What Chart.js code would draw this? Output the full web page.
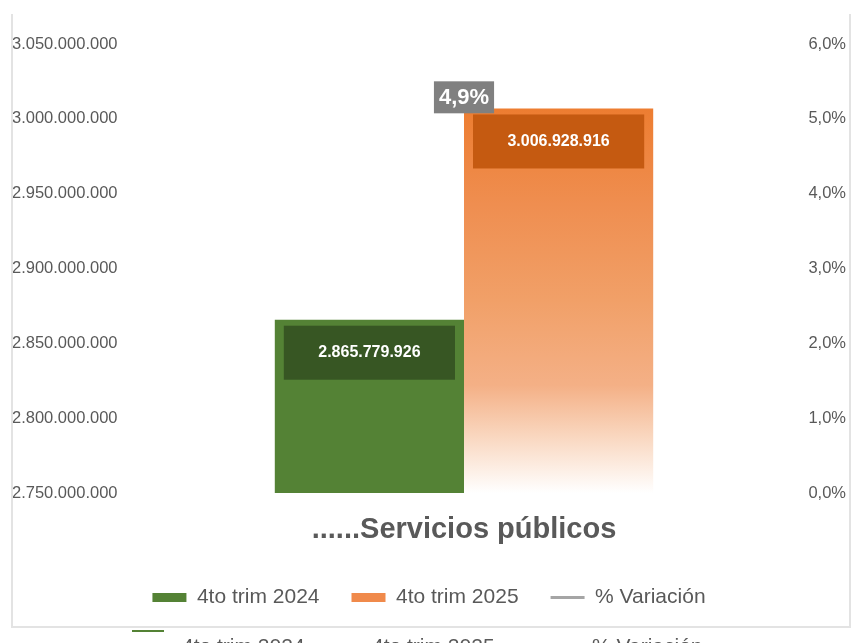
<!DOCTYPE html>
<html>
<head>
<meta charset="utf-8">
<script src="https://cdn.jsdelivr.net/npm/chart.js@4.4.1/dist/chart.umd.min.js"></script>
<style>
  html, body { margin: 0; padding: 0; background: #fff; }
  body { width: 857px; height: 643px; overflow: hidden; position: relative; }
  #wrap { position: absolute; left: 0; top: 0; width: 857px; height: 643px; }
  #frame {
    position: absolute; left: 11px; top: 14px; width: 836px; height: 612px;
    border-left: 2px solid #e3e3e3; border-right: 2px solid #e3e3e3; border-bottom: 2px solid #e3e3e3;
    pointer-events: none;
  }
  #ghost { position: absolute; top: 634px; left: 0; width: 857px; height: 40px;
    font: 21px "Liberation Sans", Arial, sans-serif; color: #595959; }
  #ghost span { position: absolute; top: 0; }
  #ghost .sym { position: absolute; top: -4px; left: 132px; width: 32px; height: 2px; background: #548235; }
</style>
</head>
<body>
<div id="wrap"><canvas id="chart" width="857" height="643"></canvas></div>
<div id="frame"></div>
<div id="ghost">
  <div class="sym"></div>
  <span style="left:182px">4to trim 2024</span>
  <span style="left:372px">4to trim 2025</span>
  <span style="left:592px">% Variación</span>
</div>
<script>
// Data
var categories = ['......Servicios públicos'];
var seriesNames = ['4to trim 2024', '4to trim 2025', '% Variación'];
var values2024 = [2865779926];
var values2025 = [3006928916];
var variacion = [4.9];

// Colours
var green = '#548235';
var greenDark = '#375623';
var orange = '#ED7D31';
var orangeDark = '#C55A11';
var gray = '#A5A5A5';
var textGray = '#595959';
var fontFamily = '"Liberation Sans", Arial, sans-serif';

function miles(n) {
  return String(Math.round(n)).replace(/\B(?=(\d{3})+(?!\d))/g, '.');
}

function orangeGradient(context) {
  var chart = context.chart;
  var area = chart.chartArea;
  if (!area) return orange;
  var top = chart.scales.y.getPixelForValue(values2025[0]);
  var g = chart.ctx.createLinearGradient(0, top, 0, area.bottom);
  g.addColorStop(0, '#ED7D31');
  g.addColorStop(0.25, '#EF8E50');
  g.addColorStop(0.5, '#F1A068');
  g.addColorStop(0.72, '#F4B086');
  g.addColorStop(0.85, '#F9D6BE');
  g.addColorStop(1, '#FFFFFF');
  return g;
}

// Value labels drawn on top of the bars and line point
var labelPlugin = {
  id: 'valueLabels',
  afterDatasetsDraw: function(chart) {
    var ctx = chart.ctx;
    ctx.save();
    ctx.textAlign = 'center';
    ctx.textBaseline = 'middle';

    [[0, greenDark], [1, orangeDark]].forEach(function(cfg) {
      var meta = chart.getDatasetMeta(cfg[0]);
      var bar = meta.data[0];
      var left = bar.x - bar.width / 2 + 9;
      var w = bar.width - 18;
      var top = bar.y + 6;
      ctx.fillStyle = cfg[1];
      ctx.fillRect(left, top, w, 54);
      ctx.fillStyle = '#ffffff';
      ctx.font = 'bold 16px ' + fontFamily;
      ctx.fillText(miles(chart.data.datasets[cfg[0]].data[0]), bar.x, top + 27);
    });

    var pt = chart.getDatasetMeta(2).data[0];
    var txt = variacion[0].toFixed(1).replace('.', ',') + '%';
    ctx.font = 'bold 22px ' + fontFamily;
    var tw = ctx.measureText(txt).width + 10;
    ctx.fillStyle = '#808080';
    ctx.fillRect(pt.x - tw / 2, pt.y - 45, tw, 32);
    ctx.fillStyle = '#ffffff';
    ctx.fillText(txt, pt.x, pt.y - 28);
    ctx.restore();
  }
};

var chart = new Chart(document.getElementById('chart'), {
  data: {
    labels: categories,
    datasets: [
      {
        type: 'bar',
        label: seriesNames[0],
        data: values2024,
        backgroundColor: green,
        yAxisID: 'y',
        categoryPercentage: 0.55,
        barPercentage: 1,
        order: 2
      },
      {
        type: 'bar',
        label: seriesNames[1],
        data: values2025,
        backgroundColor: orangeGradient,
        yAxisID: 'y',
        categoryPercentage: 0.55,
        barPercentage: 1,
        order: 2
      },
      {
        type: 'line',
        label: seriesNames[2],
        data: variacion,
        borderColor: gray,
        backgroundColor: gray,
        borderWidth: 3,
        pointRadius: 0,
        yAxisID: 'y1',
        order: 1
      }
    ]
  },
  options: {
    responsive: false,
    animation: false,
    layout: { padding: { top: 44, left: 12, right: 11, bottom: 25 } },
    plugins: {
      tooltip: { enabled: false },
      legend: {
        position: 'bottom',
        labels: {
          usePointStyle: true,
          pointStyleWidth: 34,
          boxHeight: 9,
          padding: 32,
          color: textGray,
          font: { family: fontFamily, size: 21 },
          generateLabels: function(chart) {
            return [
              { text: seriesNames[0], fillStyle: green, strokeStyle: green, lineWidth: 0, pointStyle: 'rect', datasetIndex: 0, fontColor: textGray },
              { text: seriesNames[1], fillStyle: '#F08A4B', strokeStyle: '#F08A4B', lineWidth: 0, pointStyle: 'rect', datasetIndex: 1, fontColor: textGray },
              { text: seriesNames[2], fillStyle: gray, strokeStyle: gray, lineWidth: 3, pointStyle: 'line', datasetIndex: 2, fontColor: textGray }
            ];
          }
        }
      }
    },
    scales: {
      x: {
        grid: { display: false, drawTicks: false },
        border: { display: false },
        ticks: {
          color: textGray,
          padding: 20,
          font: { family: fontFamily, size: 29, weight: 'bold' }
        },
        afterFit: function(scale) { scale.height = 62; }
      },
      y: {
        position: 'left',
        min: 2750000000,
        max: 3050000000,
        grid: { display: false, drawTicks: false },
        border: { display: false },
        ticks: {
          stepSize: 50000000,
          crossAlign: 'far',
          color: textGray,
          font: { family: fontFamily, size: 16.5 },
          callback: function(v) { return miles(v); }
        },
        afterFit: function(scale) { scale.width = 108; }
      },
      y1: {
        position: 'right',
        min: 0,
        max: 6,
        grid: { display: false, drawTicks: false },
        border: { display: false },
        ticks: {
          stepSize: 1,
          crossAlign: 'far',
          color: textGray,
          font: { family: fontFamily, size: 16.5 },
          callback: function(v) { return v.toFixed(1).replace('.', ',') + '%'; }
        },
        afterFit: function(scale) { scale.width = 38; }
      }
    }
  },
  plugins: [labelPlugin]
});
</script>
</body>
</html>
